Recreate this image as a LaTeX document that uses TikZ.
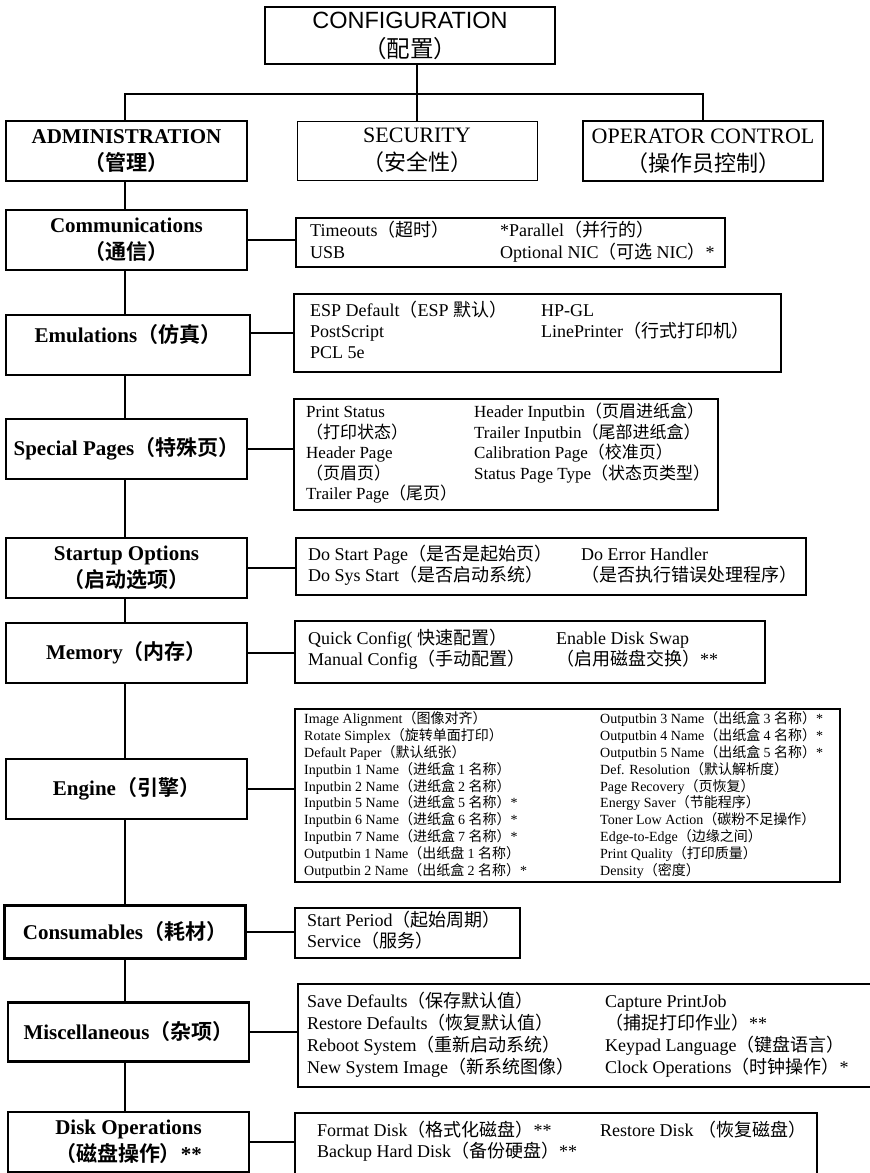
\documentclass[tikz,border=0pt]{standalone}
\usepackage{fontspec}
\usepackage{array}
\setmainfont{Liberation Serif}
\newfontfamily\hel{Liberation Sans}
\newfontfamily\cjk{Noto Sans CJK SC}[BoldFont={Noto Sans CJK SC Bold}]
\newcommand\zh[1]{{\cjk #1}}

\begin{document}
\begin{tikzpicture}[x=1pt, y=-1pt,
    topbox/.style={draw, line width=2.2pt, minimum width=240pt, minimum height=60pt, inner sep=0pt, align=center, font=\fontsize{22}{28}\selectfont},
    headbox/.style={draw, line width=2.2pt, minimum width=241pt, minimum height=60pt, inner sep=0pt, align=center, font=\fontsize{21}{27}\selectfont\bfseries},
    listbox/.style={draw, line width=2.2pt, inner sep=0pt},
    listtext/.style={anchor=west, inner sep=0pt},
    link/.style={line width=2pt}]
    \useasboundingbox (0,0) rectangle (870,1173);

    % Root and first level
    \node[topbox, minimum width=290pt, minimum height=57pt, font=\hel\fontsize{23.5}{29}\selectfont] (conf) at (410,35.5) {CONFIGURATION\\\zh{（配置）}};
    \node[headbox] (admin) at (126.5,151) {ADMINISTRATION\\\zh{（管理）}};
    \node[topbox, line width=1pt, minimum height=59pt] (sec) at (417,150.5) {SECURITY\\\zh{（安全性）}};
    \node[topbox] (oper) at (703,151) {OPERATOR CONTROL\\\zh{（操作员控制）}};
    \coordinate (bar) at (415,94);
    \coordinate (spine) at (125,0);

    \draw[link] (conf.south -| sec.north) -- (sec.north);
    \draw[link] (admin.north -| spine) |- (bar) -| (oper.north);

    % Administration menus
    \node[headbox] (comm) at (126.5,240) {Communications\\\zh{（通信）}};
    \node[headbox, minimum width=244pt] (emu) at (128,345) {Emulations\zh{（仿真）}\\[-4pt]\mbox{}};
    \node[headbox] (spec) at (126.5,449) {Special Pages\zh{（特殊页）}};
    \node[headbox] (start) at (126.5,568) {Startup Options\\\zh{（启动选项）}};
    \node[headbox] (mem) at (126.5,653) {Memory\zh{（内存）}};
    \node[headbox] (eng) at (126.5,789) {Engine\zh{（引擎）}};
    \node[headbox, minimum height=53pt] (cons) at (125,932) {Consumables\zh{（耗材）}};
    \node[headbox, minimum height=59pt] (misc) at (128.5,1032) {Miscellaneous\zh{（杂项）}};
    \node[headbox] (disk) at (128.5,1142) {Disk Operations\\\zh{（磁盘操作）}**};

    \foreach \a/\b in {admin/comm, comm/emu, emu/spec, spec/start, start/mem, mem/eng, eng/cons, cons/misc, misc/disk}
        \draw[link] (\a.south -| spine) -- (\b.north -| spine);

    % Communications
    \node[listbox, minimum width=429pt, minimum height=49pt] (commbox) at (510.5,242.5) {};
    \node[listtext, font=\fontsize{18}{22}\selectfont] (commtext) at (310,243) {\begin{tabular}{@{}w{l}{190pt}@{}l@{}}
        Timeouts\zh{（超时）} & *Parallel\zh{（并行的）}\\
        USB & Optional NIC\zh{（可选 }NIC\zh{）}*
    \end{tabular}};

    % Emulations
    \node[listbox, minimum width=487pt, minimum height=78pt] (emubox) at (537.5,333) {};
    \node[listtext, font=\fontsize{18}{21}\selectfont] (emutext) at (310,333) {\begin{tabular}{@{}w{l}{231pt}@{}l@{}}
        ESP Default\zh{（}ESP \zh{默认）} & HP-GL\\
        PostScript & LinePrinter\zh{（行式打印机）}\\
        PCL 5e &
    \end{tabular}};

    % Special pages
    \node[listbox, minimum width=424pt, minimum height=111pt] (specbox) at (506,454.5) {};
    \node[listtext, font=\fontsize{17}{20}\selectfont] (spectext) at (306,454.5) {\begin{tabular}{@{}w{l}{168pt}@{}l@{}}
        Print Status & Header Inputbin\zh{（页眉进纸盒）}\\
        \zh{（打印状态）} & Trailer Inputbin\zh{（尾部进纸盒）}\\
        Header Page & Calibration Page\zh{（校准页）}\\
        \zh{（页眉页）} & Status Page Type\zh{（状态页类型）}\\
        Trailer Page\zh{（尾页）} &
    \end{tabular}};

    % Startup options
    \node[listbox, minimum width=510pt, minimum height=57pt] (startbox) at (551,566.5) {};
    \node[listtext, font=\fontsize{18}{21}\selectfont] (starttext) at (308,566.5) {\begin{tabular}{@{}w{l}{273pt}@{}l@{}}
        Do Start Page\zh{（是否是起始页）} & Do Error Handler\\
        Do Sys Start\zh{（是否启动系统）} & \zh{（是否执行错误处理程序）}
    \end{tabular}};

    % Memory
    \node[listbox, minimum width=470pt, minimum height=62pt] (membox) at (530,652) {};
    \node[listtext, font=\fontsize{18}{21}\selectfont] (memtext) at (308,650.5) {\begin{tabular}{@{}w{l}{248pt}@{}l@{}}
        Quick Config( \zh{快速配置）} & Enable Disk Swap\\
        Manual Config\zh{（手动配置）} & \zh{（启用磁盘交换）}**
    \end{tabular}};

    % Engine
    \node[listbox, minimum width=545pt, minimum height=173pt] (engbox) at (567.5,795.5) {};
    \node[listtext, font=\fontsize{14}{16.7}\selectfont] (engtext) at (304,796) {\begin{tabular}{@{}w{l}{296pt}@{}l@{}}
        Image Alignment\zh{（图像对齐）} & Outputbin 3 Name\zh{（出纸盒 }3 \zh{名称）}*\\
        Rotate Simplex\zh{（旋转单面打印）} & Outputbin 4 Name\zh{（出纸盒 }4 \zh{名称）}*\\
        Default Paper\zh{（默认纸张）} & Outputbin 5 Name\zh{（出纸盒 }5 \zh{名称）}*\\
        Inputbin 1 Name\zh{（进纸盒 }1 \zh{名称）} & Def. Resolution\zh{（默认解析度）}\\
        Inputbin 2 Name\zh{（进纸盒 }2 \zh{名称）} & Page Recovery\zh{（页恢复）}\\
        Inputbin 5 Name\zh{（进纸盒 }5 \zh{名称）}* & Energy Saver\zh{（节能程序）}\\
        Inputbin 6 Name\zh{（进纸盒 }6 \zh{名称）}* & Toner Low Action\zh{（碳粉不足操作）}\\
        Inputbin 7 Name\zh{（进纸盒 }7 \zh{名称）}* & Edge-to-Edge\zh{（边缘之间）}\\
        Outputbin 1 Name\zh{（出纸盘 }1 \zh{名称）} & Print Quality\zh{（打印质量）}\\
        Outputbin 2 Name\zh{（出纸盒 }2 \zh{名称）}* & Density\zh{（密度）}
    \end{tabular}};

    % Consumables
    \node[listbox, minimum width=225pt, minimum height=50pt] (consbox) at (407.5,933) {};
    \node[listtext, font=\fontsize{18}{21}\selectfont] (constext) at (307,932.5) {\begin{tabular}{@{}l@{}}
        Start Period\zh{（起始周期）}\\
        Service\zh{（服务）}
    \end{tabular}};

    % Miscellaneous
    \node[listbox, minimum width=600pt, minimum height=103pt] (miscbox) at (598,1035.5) {};
    \node[listtext, font=\fontsize{18}{21.3}\selectfont] (misctext) at (307,1036) {\begin{tabular}{@{}w{l}{298pt}@{}l@{}}
        Save Defaults\zh{（保存默认值）} & Capture PrintJob\\
        Restore Defaults\zh{（恢复默认值）} & \zh{（捕捉打印作业）}**\\
        Reboot System\zh{（重新启动系统）} & Keypad Language\zh{（键盘语言）}\\
        New System Image\zh{（新系统图像）} & Clock Operations\zh{（时钟操作）}*
    \end{tabular}};

    % Disk operations
    \node[listbox, minimum width=522pt, minimum height=63pt] (diskbox) at (556,1144.5) {};
    \node[listtext, font=\fontsize{18}{20}\selectfont] (disktext) at (317,1142) {\begin{tabular}{@{}w{l}{283pt}@{}l@{}}
        Format Disk\zh{（格式化磁盘）}** & Restore Disk \zh{（恢复磁盘）}\\
        Backup Hard Disk\zh{（备份硬盘）}** &
    \end{tabular}};

    % Links to the lists
    \foreach \h/\l in {comm/commbox, spec/specbox, start/startbox, mem/membox, eng/engbox, cons/consbox, misc/miscbox, disk/diskbox}
        \draw[link] (\h.east) -- (\h.east -| \l.west);
    \draw[link] (emubox.west -| emu.east) -- (emubox.west);
\end{tikzpicture}
\end{document}
